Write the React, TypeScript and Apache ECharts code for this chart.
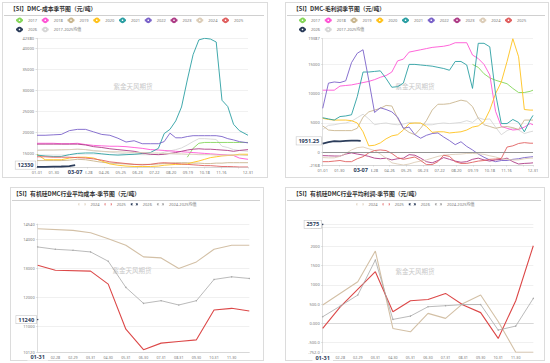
import React, { useEffect, useRef } from 'react';
import * as echarts from 'echarts';

const FONT = "'Noto Sans', 'Noto Sans CJK SC', sans-serif";
const TITLE_FONT = "'Noto Sans CJK SC', 'Noto Sans', sans-serif";
const NAVY = '#2c3d5b';

const MEAN_ALL = '2017-2025均值';
const MEAN_RECENT = '2024-2025均值';

const YEAR_COLORS: Record<string, string> = {
  '2017': '#85d65a',
  '2018': '#ff55d5',
  '2019': '#c9b68f',
  '2020': '#ffc21c',
  '2021': '#2b9fa3',
  '2022': '#7a62c9',
  '2023': '#ad3b86',
  '2024': '#dccdb8',
  '2025': '#e06060',
  '2026': NAVY,
};
const MEAN_COLOR = '#d6d6d6';

// x tick labels of the seasonal (day-of-year) charts
const SEASON_TICKS = ['01-01', '01-30', '02-28', '03-28', '04-26', '05-25', '06-23', '07-22', '08-20', '09-19', '10-18', '11-16', '', '12-31'];

// ---------- Chart 1: DMC cost seasonal (元/吨) ----------
const D_COST = [0, 14, 28, 42, 56, 70, 84, 98, 112, 126, 140, 154, 168, 182, 196, 210, 220, 230, 240, 250, 260, 270, 280, 290, 300, 310, 320, 330, 340, 350, 365];
const D_COST_2026 = [0, 14, 28, 42, 56, 66];
const COST_2017 = [null, null, null, null, null, null, null, null, null, null, null, null, null, null, null, null, null, null, null, null, 14200, 16300, 17500, 17700, 17700, 17700, 17700, 17700, 17700, 17700, 17700];
const COST_2018 = [17500, 17500, 17500, 17400, 17400, 17500, 17200, 17000, 16900, 16800, 16800, 16700, 16500, 16300, 16000, 15900, 15800, 15700, 15600, 15500, 15400, 15300, 15200, 15100, 15000, 14900, 14800, 14700, 14600, 14000, 13700];
const COST_2019 = [13400, 13400, 13400, 13400, 13500, 13700, 13600, 13300, 13000, 12800, 12700, 12600, 12500, 12500, 12500, 12600, 12700, 12800, 12900, 12900, 12900, 12800, 12800, 12700, 12700, 12800, 12800, 12900, 12900, 12900, 12900];
const COST_2020 = [14900, 13600, 13600, 13600, 14000, 14200, 14200, 14000, 13300, 12600, 12300, 12100, 12000, 12000, 12000, 12100, 12300, 12400, 12500, 12500, 12600, 13000, 13300, 13700, 14100, 14300, 14500, 14600, 14700, 14900, 14900];
const COST_2021 = [14700, 14500, 14400, 14400, 14800, 15100, 15200, 15200, 15000, 14800, 14700, 14800, 14900, 15100, 15300, 16300, 19800, 20800, 22800, 26100, 32500, 38500, 42000, 42380, 42200, 41500, 27700, 26200, 22000, 20500, 19400];
const COST_2022 = [19400, 19400, 19500, 19600, 20500, 20800, 20800, 20200, 19600, 19400, 18700, 17800, 18100, 17400, 17400, 17400, 17900, 19900, 18800, 18800, 19100, 19300, 19300, 19300, 19300, 19300, 19100, 18600, 18300, 17900, 17600];
const COST_2023 = [17300, 17300, 17300, 17300, 17300, 17300, 17100, 16700, 16500, 16200, 16000, 15800, 15600, 15200, 14900, 14800, 14900, 15100, 15300, 15600, 15900, 16100, 16200, 16100, 16100, 16000, 15900, 15800, 15600, 15800, 16000];
const COST_2024 = [15800, 15900, 15900, 16000, 16000, 16100, 16000, 15700, 15600, 15500, 15500, 15400, 15300, 15300, 15200, 15200, 15100, 15100, 15000, 15000, 14900, 14900, 14800, 14800, 14800, 14700, 14700, 14700, 14700, 14700, 14600];
const COST_2025 = [14300, 14300, 14200, 14200, 14200, 14100, 14000, 13800, 13500, 13100, 12900, 12700, 12500, 12400, 12500, 12800, 12900, 12800, 12700, 12600, 12500, 12400, 12300, 12200, 12200, 12100, 12000, 12000, 11950, 11880, 11880];
const COST_2026 = [11900, 11900, 11950, 12000, 12100, 12330];
const COST_MEAN = [15900, 15900, 15900, 15900, 16000, 16100, 16000, 15800, 15600, 15400, 15200, 15000, 14900, 14800, 14800, 14900, 15400, 15700, 16000, 16400, 17100, 17900, 18600, 18600, 18500, 18400, 16800, 16500, 16000, 15800, 15600];

// ---------- Chart 2: DMC gross profit seasonal (元/吨) ----------
const D_MARGIN = [0, 10, 20, 30, 40, 50, 60, 70, 80, 90, 100, 110, 120, 130, 140, 150, 160, 170, 180, 190, 200, 210, 220, 230, 240, 250, 260, 270, 280, 290, 300, 310, 320, 330, 340, 350, 360, 365];
const D_MARGIN_2026 = [0, 10, 20, 30, 40, 50, 60, 66];
const MARGIN_2017 = [null, null, null, null, null, null, null, null, null, null, null, null, null, null, null, null, null, null, null, null, null, null, null, null, null, null, 15000, 14500, 13400, 12700, 12300, 12000, 11700, 10900, 10200, 10200, 10400, 10600];
const MARGIN_2018 = [10600, 10600, 10600, 11300, 11400, 11500, 11700, 11900, 12100, 12400, 12800, 13100, 13700, 15600, 15900, 17100, 17300, 17500, 17700, 17900, 18000, 18100, 18300, 18700, 18700, 18700, 16600, 16000, 15000, 13200, 7000, 4400, 4100, 3800, 3900, 4300, 4900, 4700];
const MARGIN_2019 = [4500, 3800, 3700, 3700, 3700, 3700, 4100, 6000, 6900, 7200, 7500, 8000, 7900, 5800, 4100, 3400, 3000, 4100, 5400, 7200, 8200, 8200, 8300, 8600, 8900, 8700, 7800, 5800, 4700, 4400, 4100, 4300, 4400, 4200, 3900, 5500, 5500, 5500];
const MARGIN_2020 = [5800, 5600, 5500, 5500, 5500, 5400, 5000, 3500, 1100, 1200, 1600, 2300, 2800, 3000, 3800, 4900, 5000, 5000, 4400, 3400, 3500, 3500, 3300, 3400, 3500, 3800, 4300, 4500, 5200, 7200, 10000, 12000, 15500, 19387, 16300, 7300, 7200, 7200];
const MARGIN_2021 = [5900, 5700, 5500, 6100, 6200, 6400, 9500, 13700, 13700, 13800, 13900, 12600, 11100, 11200, 11800, 15000, 15000, 14900, 14800, 14700, 14500, 14300, 14000, 15500, 15500, 14900, 10900, 18600, 18600, 18000, 10000, 4900, 4900, 5600, 5100, 3500, 5500, 6300];
const MARGIN_2022 = [7500, 11800, 12000, 11900, 12200, 15300, 16900, 17500, 12300, 6800, 7600, 7300, 6900, 6000, 4100, 4300, 3000, 2400, 2900, 3200, 3300, 2600, 2000, 1300, 1800, 1000, 400, -300, -850, -1300, -1600, -1400, -1400, -1200, -1100, -900, -800, -750];
const MARGIN_2023 = [-570, -600, -630, -650, -300, -100, -300, -460, -700, -1000, -1100, -1000, -1300, -1100, -1000, -400, -500, -1000, -1600, -1800, -1400, -900, -1200, -1500, -1700, -1600, -1200, -1000, -1300, -1500, -1300, -1200, -1000, -1600, -2000, -1900, -1850, -1800];
const MARGIN_2024 = [-900, -950, -950, -700, -200, 400, 800, 900, 600, 300, -300, -1000, -1800, -2000, -2168, -2000, -1700, -1500, -1300, -1000, -700, -500, -400, -350, -300, -200, -200, -250, -350, -600, -800, -1100, -1200, -1300, -1300, -1100, -1000, -1000];
const MARGIN_2025 = [-1600, -1600, -1500, -1400, -1600, -1600, -1100, -750, -100, 300, 400, 300, -200, -900, -1200, -1000, -800, -1400, -2100, -2100, -1600, -500, -700, -1600, -1900, -1900, -1700, -1500, -1400, -1200, -1150, -1050, 900, 1100, 1500, 1650, 1550, 1550];
const MARGIN_2026 = [1500, 1750, 1900, 1850, 1950, 2000, 2000, 1951.25];
const MARGIN_MEAN = [3900, 4600, 4700, 4900, 5000, 5300, 5900, 6500, 5700, 4700, 4900, 5000, 4800, 4700, 4800, 5100, 5000, 4900, 4700, 4700, 4900, 5000, 4900, 5000, 5100, 5400, 5100, 5900, 5600, 5700, 4300, 3000, 3700, 4100, 3800, 3200, 3500, 3600];

// ---------- Charts 3 & 4: industry average, month-end ----------
const MONTH_ENDS = ['01-31', '02-28', '02-29', '03-31', '04-30', '05-31', '06-30', '07-31', '08-31', '09-30', '10-31', '11-30', '12-31'];
const AVG_COST_2024 = [14377, null, 14320, 14240, 14033, 13805, 13405, 13369, 13003, 13231, 13667, 13804, 13804];
const AVG_COST_2025 = [13117, 12945, null, 12911, 12464, 10907, 10200, 10426, 10483, 10540, 11571, 11628, 11537];
const AVG_COST_2026 = [11240];
const AVG_COST_MEAN = [13747, 13667, 13632, 13575, 13254, 12350, 11800, 11891, 11743, 11891, 12625, 12716, 12659];
const AVG_COST_RANGE = [10120, 14540];
const AVG_PROFIT_2024 = [477, null, 1084, 1883, -131, -218, 260, 130, 520, 737, 50, -752, -750];
const AVG_PROFIT_2025 = [-131, 430, null, 1345, 303, 590, 620, 780, 477, 280, -391, 590, 2020];
const AVG_PROFIT_2026 = [2575];
const AVG_PROFIT_MEAN = [173, 450, 737, 1648, 103, 190, 433, 460, 490, 490, -174, -70, 650];

type Line = { name: string; days: number[]; values: (number | null)[] };

const axisLabelStyle = { fontSize: 4, color: '#777', fontFamily: FONT };

const dayToMMDD = (d: number) => {
  const dt = new Date(Date.UTC(2024, 0, 1) + d * 86400000);
  return `${String(dt.getUTCMonth() + 1).padStart(2, '0')}-${String(dt.getUTCDate()).padStart(2, '0')}`;
};

const numbers = (arrs: (number | null)[][]) => arrs.flat().filter((v): v is number => v !== null);
const plain = (v: number) => String(v);

function staticGraphics(title: string, titleLeft: number, width: number, wm: [number, number]) {
  return [
    {
      type: 'text', id: 'title', x: titleLeft, y: 3.5, z: 50,
      style: { text: title, fill: '#333', font: `bold 5.8px ${TITLE_FONT}`, align: 'left', verticalAlign: 'top' },
    },
    {
      type: 'line', id: 'rule', z: 50,
      shape: { x1: 2, y1: 13.5, x2: width - 4, y2: 13.5 },
      style: { stroke: '#c4c4c4', lineWidth: 0.8 },
    },
    {
      type: 'text', id: 'wm', x: wm[0], y: wm[1], z: 1,
      style: { text: '紫金天风期货', fill: '#c9c9c9', font: `6.5px ${TITLE_FONT}`, align: 'center', verticalAlign: 'middle' },
    },
  ];
}

function highlightGraphics(px: number, yBottom: number, xText: string, xLeft: number, py: number, yText: string) {
  return [
    {
      type: 'text', id: 'hx', x: px, y: yBottom + 2, z: 60,
      style: {
        text: xText, fill: NAVY, font: `bold 5.6px ${FONT}`, align: 'center', verticalAlign: 'top',
        backgroundColor: '#fff', padding: [0.5, 3],
      },
    },
    {
      type: 'text', id: 'hy', x: xLeft - 1.5, y: py, z: 60,
      style: {
        text: yText, fill: NAVY, font: `bold 5.6px ${FONT}`, align: 'right', verticalAlign: 'middle',
        backgroundColor: '#fff', borderColor: '#c8c8c8', borderWidth: 0.6, padding: [1, 2],
      },
    },
  ];
}

type SeasonalCfg = {
  title: string;
  titleLeft: number;
  width: number;
  grid: { left: number; right: number; top: number; bottom: number };
  lines: Line[];
  zeroLine: boolean;
  wm: [number, number];
};

function buildSeasonal(chart: echarts.ECharts, cfg: SeasonalCfg) {
  const all = numbers(cfg.lines.map((l) => l.values));
  const yMin = Math.min(...all);
  const yMax = Math.max(...all);
  const now = cfg.lines.find((l) => l.name === '2026')!;
  const lastDay = now.days[now.days.length - 1];
  const lastVal = now.values[now.values.length - 1] as number;
  const series = cfg.lines.map((l) => {
    const isNow = l.name === '2026';
    const isMean = l.name === MEAN_ALL;
    const color = isMean ? MEAN_COLOR : YEAR_COLORS[l.name];
    const data = l.days.map((d, i) => [d, l.values[i]]).filter((p) => p[1] !== null);
    const s: any = {
      type: 'line', name: l.name, data,
      symbol: 'emptyCircle', symbolSize: 3, showSymbol: false, silent: true,
      lineStyle: { color, width: isNow ? 1.8 : 0.9 },
      itemStyle: { color, borderWidth: 0.8 },
      z: isNow ? 5 : isMean ? 2 : 3,
    };
    if (isMean && cfg.zeroLine) {
      s.markLine = {
        silent: true, symbol: ['none', 'none'], label: { show: false },
        lineStyle: { color: '#8a8a8a', width: 0.9, type: 'solid' },
        data: [{ yAxis: 0 }],
      };
    }
    return s;
  });

  chart.setOption({
    animation: false,
    grid: { ...cfg.grid, outerBoundsMode: 'none' },
    legend: {
      left: 13, top: 15.5, width: 248, padding: 0,
      itemWidth: 7, itemHeight: 4.5, itemGap: 3.6,
      textStyle: { fontSize: 4, color: '#777', fontFamily: FONT, lineHeight: 5 },
      data: cfg.lines.map((l) => l.name),
    },
    xAxis: {
      type: 'value', min: 0, max: 365, interval: 29,
      axisLine: { onZero: false, lineStyle: { color: '#c8c8c8', width: 0.6 } },
      axisTick: { show: true, length: 1.5, lineStyle: { color: '#c8c8c8', width: 0.6 } },
      axisLabel: {
        ...axisLabelStyle, margin: 3, showMinLabel: true, showMaxLabel: true,
        formatter: (v: number) => {
          if (Math.abs(v - lastDay) < 15) return '';
          return v >= 365 ? SEASON_TICKS[SEASON_TICKS.length - 1] : SEASON_TICKS[Math.round(v / 29)] ?? '';
        },
      },
      splitLine: { show: false },
    },
    yAxis: {
      type: 'value', min: yMin, max: yMax,
      axisLine: { show: true, lineStyle: { color: '#c8c8c8', width: 0.6 } },
      axisTick: { show: true, length: 1.5, lineStyle: { color: '#c8c8c8', width: 0.6 } },
      axisLabel: { ...axisLabelStyle, margin: 3, showMinLabel: true, showMaxLabel: true, formatter: plain },
      splitLine: { show: true, lineStyle: { color: '#e8e8e8', width: 0.6 } },
    },
    series,
  });

  const xLeft = chart.convertToPixel({ xAxisIndex: 0 } as any, 0) as number;
  const yBottom = chart.convertToPixel({ yAxisIndex: 0 } as any, yMin) as number;
  const px = chart.convertToPixel({ xAxisIndex: 0 } as any, lastDay) as number;
  const py = chart.convertToPixel({ yAxisIndex: 0 } as any, lastVal) as number;
  chart.setOption({
    graphic: [
      ...staticGraphics(cfg.title, cfg.titleLeft, cfg.width, cfg.wm),
      ...highlightGraphics(px, yBottom, dayToMMDD(lastDay), xLeft, py, String(lastVal)),
    ],
  });
}

type MonthlyLine = { name: string; values: (number | null)[]; color: string; width: number; dots: boolean };
type MonthlyCfg = {
  title: string;
  titleLeft: number;
  width: number;
  grid: { left: number; right: number; top: number; bottom: number };
  lines: MonthlyLine[];
  yRange?: number[];
  yFormatter: (v: number) => string;
  wm: [number, number];
};

function buildMonthly(chart: echarts.ECharts, cfg: MonthlyCfg) {
  const all = numbers(cfg.lines.map((l) => l.values));
  const yMin = cfg.yRange ? cfg.yRange[0] : Math.min(...all);
  const yMax = cfg.yRange ? cfg.yRange[1] : Math.max(...all);
  const now = cfg.lines.find((l) => l.name === '2026')!;
  const lastIdx = now.values.length - 1;
  const lastVal = now.values[lastIdx] as number;
  const series = cfg.lines.map((l) => ({
    type: 'line', name: l.name, data: l.values, connectNulls: true,
    symbol: l.dots ? 'circle' : 'emptyCircle', symbolSize: l.dots ? 1.4 : 3, showSymbol: l.dots, silent: true,
    lineStyle: { color: l.color, width: l.width },
    itemStyle: { color: l.color, borderWidth: l.dots ? 0 : 0.6 },
    z: l.name === '2026' ? 5 : 3,
  }));
  chart.setOption({
    animation: false,
    grid: { ...cfg.grid, outerBoundsMode: 'none' },
    legend: {
      left: 'center', top: 14.5, padding: 0,
      itemWidth: 7, itemHeight: 4.5, itemGap: 4,
      textStyle: { fontSize: 4, color: '#777', fontFamily: FONT, lineHeight: 5 },
      itemStyle: { color: '#fff', borderWidth: 0.8 },
      data: cfg.lines.map((l) => l.name),
    },
    xAxis: {
      type: 'category', data: MONTH_ENDS, boundaryGap: false,
      axisLine: { lineStyle: { color: '#c8c8c8', width: 0.6 } },
      axisTick: { show: false },
      axisLabel: {
        ...axisLabelStyle, fontSize: 3.6, margin: 3.5, interval: 0,
        formatter: (v: string, i: number) => (i === MONTH_ENDS.length - 1 || i === lastIdx ? '' : v),
      },
      splitLine: { show: false },
    },
    yAxis: {
      type: 'value', min: yMin, max: yMax,
      axisLine: { show: true, lineStyle: { color: '#c8c8c8', width: 0.6 } },
      axisTick: { show: true, length: 1.5, lineStyle: { color: '#c8c8c8', width: 0.6 } },
      axisLabel: {
        ...axisLabelStyle, margin: 3, showMinLabel: true, showMaxLabel: lastVal !== yMax,
        formatter: cfg.yFormatter,
      },
      splitLine: { show: true, lineStyle: { color: '#e6e6e6', width: 0.6 } },
    },
    series,
  });
  const xLeft = chart.convertToPixel({ xAxisIndex: 0 } as any, 0) as number;
  const yBottom = chart.convertToPixel({ yAxisIndex: 0 } as any, yMin) as number;
  const px = chart.convertToPixel({ xAxisIndex: 0 } as any, lastIdx) as number;
  const py = chart.convertToPixel({ yAxisIndex: 0 } as any, lastVal) as number;
  chart.setOption({
    graphic: [
      ...staticGraphics(cfg.title, cfg.titleLeft, cfg.width, cfg.wm),
      ...highlightGraphics(px, yBottom, MONTH_ENDS[lastIdx], xLeft, py, String(lastVal)),
    ],
  });
}

function Panel(props: { left: number; top: number; width: number; height: number; build: (c: echarts.ECharts) => void }) {
  const ref = useRef<HTMLDivElement>(null);
  useEffect(() => {
    const chart = echarts.init(ref.current!, null, { renderer: 'svg' });
    props.build(chart);
    return () => chart.dispose();
  }, []);
  const { left, top, width, height } = props;
  return (
    <>
      <div style={{ position: 'absolute', left, top, width, height, border: '1px solid #dcdcdc', boxSizing: 'border-box' }} />
      <div ref={ref} style={{ position: 'absolute', left, top, width, height }} />
    </>
  );
}

const COST_LINES: Line[] = [
  { name: '2017', days: D_COST, values: COST_2017 },
  { name: '2018', days: D_COST, values: COST_2018 },
  { name: '2019', days: D_COST, values: COST_2019 },
  { name: '2020', days: D_COST, values: COST_2020 },
  { name: '2021', days: D_COST, values: COST_2021 },
  { name: '2022', days: D_COST, values: COST_2022 },
  { name: '2023', days: D_COST, values: COST_2023 },
  { name: '2024', days: D_COST, values: COST_2024 },
  { name: '2025', days: D_COST, values: COST_2025 },
  { name: '2026', days: D_COST_2026, values: COST_2026 },
  { name: MEAN_ALL, days: D_COST, values: COST_MEAN },
];

const MARGIN_LINES: Line[] = [
  { name: '2017', days: D_MARGIN, values: MARGIN_2017 },
  { name: '2018', days: D_MARGIN, values: MARGIN_2018 },
  { name: '2019', days: D_MARGIN, values: MARGIN_2019 },
  { name: '2020', days: D_MARGIN, values: MARGIN_2020 },
  { name: '2021', days: D_MARGIN, values: MARGIN_2021 },
  { name: '2022', days: D_MARGIN, values: MARGIN_2022 },
  { name: '2023', days: D_MARGIN, values: MARGIN_2023 },
  { name: '2024', days: D_MARGIN, values: MARGIN_2024 },
  { name: '2025', days: D_MARGIN, values: MARGIN_2025 },
  { name: '2026', days: D_MARGIN_2026, values: MARGIN_2026 },
  { name: MEAN_ALL, days: D_MARGIN, values: MARGIN_MEAN },
];

const AVG_TAN = '#d3c0a6';
const AVG_RED = '#dc4848';
const AVG_GREY = '#a8a8a8';

const AVG_COST_LINES: MonthlyLine[] = [
  { name: '2024', values: AVG_COST_2024, color: AVG_TAN, width: 1.1, dots: false },
  { name: '2025', values: AVG_COST_2025, color: AVG_RED, width: 1.1, dots: false },
  { name: '2026', values: AVG_COST_2026, color: NAVY, width: 1.2, dots: true },
  { name: MEAN_RECENT, values: AVG_COST_MEAN, color: AVG_GREY, width: 0.8, dots: true },
];
const AVG_PROFIT_LINES: MonthlyLine[] = [
  { name: '2024', values: AVG_PROFIT_2024, color: AVG_TAN, width: 1.1, dots: false },
  { name: '2025', values: AVG_PROFIT_2025, color: AVG_RED, width: 1.1, dots: false },
  { name: '2026', values: AVG_PROFIT_2026, color: NAVY, width: 1.2, dots: true },
  { name: MEAN_RECENT, values: AVG_PROFIT_MEAN, color: AVG_GREY, width: 0.8, dots: true },
];

export default function App() {
  return (
    <div style={{ position: 'fixed', left: 0, top: 0, width: 550, height: 363, background: '#fff', overflow: 'hidden' }}>
      <Panel left={2} top={2} width={266} height={176} build={(c) => buildSeasonal(c, {
        title: '【SI】DMC-成本季节图（元/吨）', titleLeft: 8, width: 266,
        grid: { left: 35, right: 20, top: 36.3, bottom: 11 },
        lines: COST_LINES, zeroLine: false, wm: [131, 84],
      })} />
      <Panel left={285} top={2} width={264} height={176} build={(c) => buildSeasonal(c, {
        title: '【SI】DMC-毛利润季节图（元/吨）', titleLeft: 8, width: 264,
        grid: { left: 37.7, right: 16, top: 36.7, bottom: 13 },
        lines: MARGIN_LINES, zeroLine: true, wm: [130, 84],
      })} />
      <Panel left={10} top={187} width={254} height={174} build={(c) => buildMonthly(c, {
        title: '【SI】有机硅DMC行业平均成本-季节图（元/吨）', titleLeft: 3, width: 254,
        grid: { left: 27.7, right: 14.7, top: 37, bottom: 9 },
        lines: AVG_COST_LINES, yRange: AVG_COST_RANGE, yFormatter: plain, wm: [122, 83],
      })} />
      <Panel left={285} top={187} width={260} height={174} build={(c) => buildMonthly(c, {
        title: '【SI】有机硅DMC行业平均利润-季节图（元/吨）', titleLeft: 8, width: 260,
        grid: { left: 37.7, right: 11.7, top: 37.4, bottom: 8.7 },
        lines: AVG_PROFIT_LINES, yFormatter: (v: number) => Number(v).toPrecision(4), wm: [130, 84],
      })} />
    </div>
  );
}
